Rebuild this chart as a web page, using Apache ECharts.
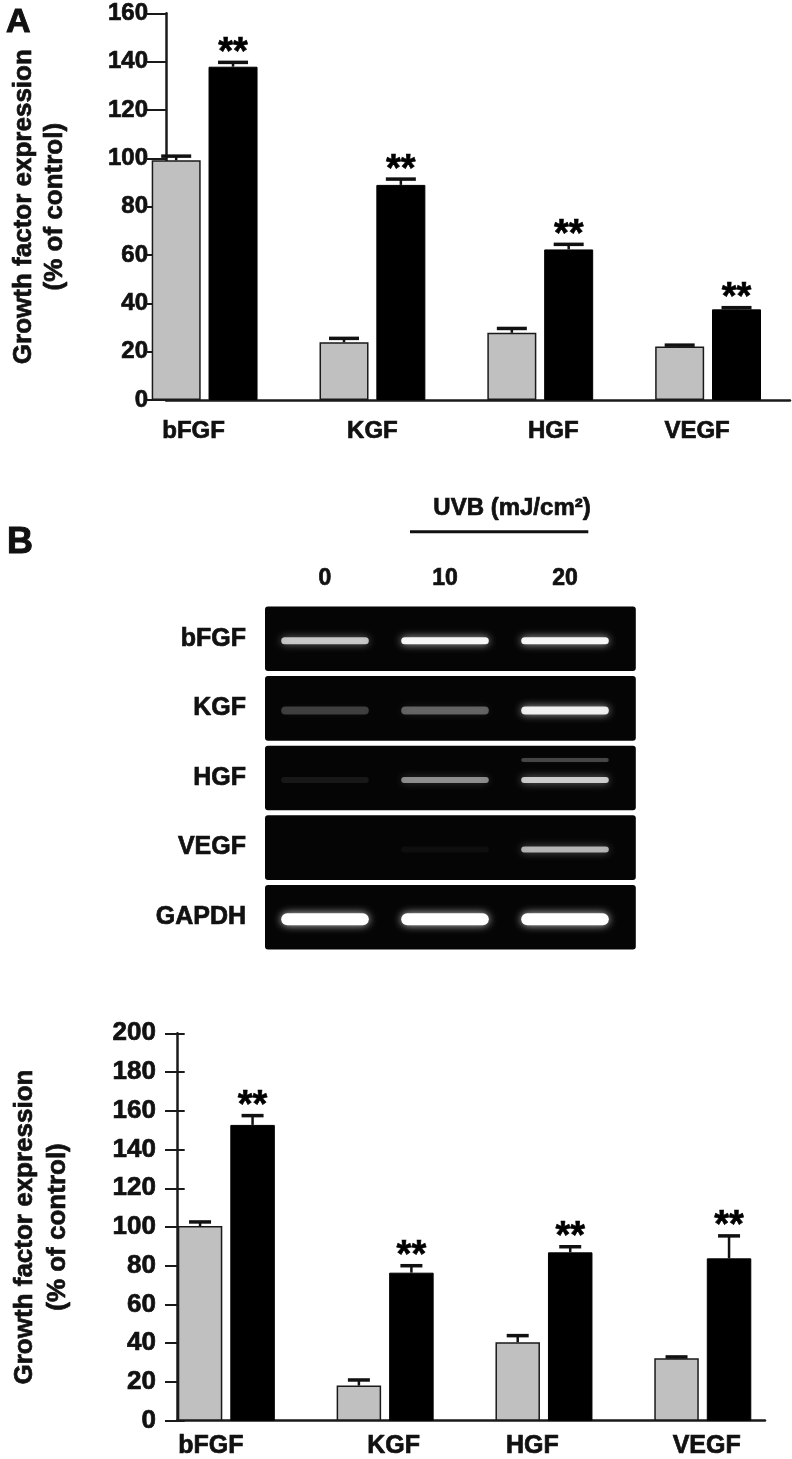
<!DOCTYPE html>
<html>
<head>
<meta charset="utf-8">
<script src="https://cdn.jsdelivr.net/npm/echarts@6/dist/echarts.min.js"></script>
<style>
html,body{margin:0;padding:0;background:#fff;}
#chart{width:792px;height:1459px;}
</style>
</head>
<body>
<div id="chart"></div>
<script>
// ---------------- DATA ----------------
const categories = ['bFGF', 'KGF', 'HGF', 'VEGF'];

// Panel A
const aControl    = [99.2, 23.9, 27.8, 22.1];
const aControlErr = [1.7, 1.6, 1.8, 0.6];
const aUVB        = [137.9, 89.0, 62.3, 37.5];
const aUVBErr     = [1.8, 2.4, 2.1, 0.7];
const aSig        = ['**', '**', '**', '**'];
const aYMax = 160, aYStep = 20;

// Panel B (densitometry)
const bControl    = [100.5, 18.1, 40.5, 32.2];
const bControlErr = [2.1, 2.9, 3.4, 0.7];
const bUVB        = [152.7, 76.4, 86.9, 83.8];
const bUVBErr     = [4.8, 3.6, 2.9, 11.6];
const bSig        = ['**', '**', '**', '**'];
const bYMax = 200, bYStep = 20;

// Panel B gel (band intensity 0..1)
const gelLanes = ['0', '10', '20'];
const gelGenes = ['bFGF', 'KGF', 'HGF', 'VEGF', 'GAPDH'];
const gelBand = [
  [0.72, 0.95, 0.95],
  [0.22, 0.35, 0.90],
  [0.08, 0.50, 0.75],
  [0.00, 0.04, 0.65],
  [1.00, 1.00, 1.00]
];
const gelUpperBand = [
  [0, 0, 0],
  [0, 0, 0],
  [0, 0, 0.25],
  [0, 0, 0],
  [0, 0, 0]
];
const uvbTitle = 'UVB (mJ/cm²)';
const yTitle = 'Growth factor expression\n(% of control)';

// ---------------- STYLE ----------------
const FONT = "'Liberation Sans', Arial, Helvetica, sans-serif";
const GRAY = '#c0c0c0';
const INK = '#111';
const STROKE = 0.7;
const bandHeights = [7, 8, 6, 6, 12];

function txt(size, extra) {
  return Object.assign({ fontSize: size, fontWeight: 'bold', fontFamily: FONT, color: INK,
    textBorderColor: INK, textBorderWidth: STROKE }, extra || {});
}

function shiftedLabels(shifts, fontSize, margin) {
  const rich = {};
  shifts.forEach((d, i) => {
    rich['s' + i] = txt(fontSize, { padding: d >= 0 ? [0, 0, 0, 2 * d] : [0, -2 * d, 0, 0] });
  });
  return {
    show: true, margin: margin, interval: 0,
    formatter: (v, i) => '{s' + i + '|' + v + '}',
    rich: rich
  };
}

function errRender(side, barW, gapRatio, capW, sigArr, sigFont, sigGap) {
  return function (params, api) {
    const i = api.value(0), v = api.value(1), e = api.value(2);
    const base = api.coord([i, v]);
    const top = api.coord([i, v + e]);
    const off = side * (barW + barW * gapRatio) / 2;
    const x = base[0] + off;
    const children = [
      { type: 'line', shape: { x1: x, y1: base[1], x2: x, y2: top[1] },
        style: { stroke: INK, lineWidth: 2.5 } },
      { type: 'line', shape: { x1: x - capW / 2, y1: top[1], x2: x + capW / 2, y2: top[1] },
        style: { stroke: INK, lineWidth: 3.5 } }
    ];
    if (sigArr && sigArr[params.dataIndex]) {
      children.push({
        type: 'text',
        style: {
          text: sigArr[params.dataIndex], x: x, y: top[1] - sigGap,
          align: 'center', verticalAlign: 'middle',
          textAlign: 'center', textVerticalAlign: 'middle',
          font: 'bold ' + sigFont + 'px ' + FONT, fill: '#000',
          stroke: '#000', lineWidth: 0.6
        }
      });
    }
    return { type: 'group', children: children };
  };
}

function errData(vals, errs) {
  return vals.map((v, i) => [i, v, errs[i]]);
}

// Panel geometry
const A = { top: 13.3, height: 386.7, axLeft: 147, axWidth: 643, barLeft: 120.7, barWidth: 693.8, bw: 49, gap: 0.16, tick: 11 };
const B = { top: 1033.3, height: 387.4, axLeft: 172.7, axWidth: 592.3, barLeft: 146.9, barWidth: 635.3, bw: 44.5, gap: 0.18, tick: 12 };

const axisLineStyle = { color: '#1a1a1a', width: 2.5 };
const tickStyle = { color: '#1a1a1a', width: 2 };

const option = {
  backgroundColor: '#fff',
  animation: false,
  title: [
    { text: 'A', left: 1, top: 1, textStyle: txt(34, { textBorderWidth: 1 }) },
    { text: 'B', left: 2, top: 520, textStyle: txt(36, { textBorderWidth: 1 }) }
  ],
  graphic: [
    { type: 'text', left: 433, top: 496,
      style: { text: uvbTitle, font: 'bold 24px ' + FONT, fill: INK, stroke: INK, lineWidth: STROKE } },
    { type: 'line', shape: { x1: 410, y1: 531.7, x2: 588.3, y2: 531.7 },
      style: { stroke: INK, lineWidth: 3 } }
  ],
  grid: [
    { left: A.axLeft, top: A.top, width: A.axWidth, height: A.height },
    { left: A.barLeft, top: A.top, width: A.barWidth, height: A.height },
    { left: 265, top: 604, width: 360, height: 348 },
    { left: B.axLeft, top: B.top, width: B.axWidth, height: B.height },
    { left: B.barLeft, top: B.top, width: B.barWidth, height: B.height },
    // helper grids carrying the right half of the crossing y ticks
    { left: A.axLeft + A.tick, top: A.top, width: 40, height: A.height },
    { left: B.axLeft + B.tick, top: B.top, width: 40, height: B.height }
  ],
  xAxis: [
    { gridIndex: 0, type: 'category', data: categories, axisLine: { lineStyle: axisLineStyle },
      axisTick: { show: false }, axisLabel: { show: false } },
    { gridIndex: 1, type: 'category', data: categories, axisLine: { show: false },
      axisTick: { show: false }, axisLabel: shiftedLabels([-11, 0, 13, -11], 24, 19) },
    { gridIndex: 2, type: 'category', data: gelLanes, position: 'top', axisLine: { show: false },
      axisTick: { show: false },
      axisLabel: Object.assign(txt(23), { margin: 14 }) },
    { gridIndex: 3, type: 'category', data: categories, axisLine: { lineStyle: axisLineStyle },
      axisTick: { show: false }, axisLabel: { show: false } },
    { gridIndex: 4, type: 'category', data: categories, axisLine: { show: false },
      axisTick: { show: false }, axisLabel: shiftedLabels([-15.5, 8.4, -11.7, 3.9], 25, 13) },
    { gridIndex: 5, type: 'category', data: categories, show: false },
    { gridIndex: 6, type: 'category', data: categories, show: false }
  ],
  yAxis: [
    { gridIndex: 0, type: 'value', position: 'left', min: 0, max: aYMax, interval: aYStep,
      axisLine: { show: true, lineStyle: axisLineStyle },
      axisTick: { show: true, length: 10, lineStyle: tickStyle },
      axisLabel: Object.assign(txt(24), { margin: 18 }),
      splitLine: { show: false },
      name: yTitle, nameLocation: 'middle', nameRotate: 90, nameGap: 96,
      nameTextStyle: txt(26, { lineHeight: 31 }) },
    { gridIndex: 1, type: 'value', min: 0, max: aYMax, show: false, splitLine: { show: false } },
    { gridIndex: 2, type: 'category', data: gelGenes, inverse: true, axisLine: { show: false },
      axisTick: { show: false },
      axisLabel: Object.assign(txt(25), { margin: 19 }) },
    { gridIndex: 3, type: 'value', position: 'left', min: 0, max: bYMax, interval: bYStep,
      axisLine: { show: true, lineStyle: axisLineStyle },
      axisTick: { show: true, length: 12, lineStyle: tickStyle },
      axisLabel: Object.assign(txt(26), { margin: 21 }),
      splitLine: { show: false },
      name: yTitle, nameLocation: 'middle', nameRotate: 90, nameGap: 103,
      nameTextStyle: txt(26, { lineHeight: 33 }) },
    { gridIndex: 4, type: 'value', min: 0, max: bYMax, show: false, splitLine: { show: false } },
    { gridIndex: 5, type: 'value', position: 'left', min: 0, max: aYMax, interval: aYStep,
      axisLine: { show: true, lineStyle: { color: 'rgba(0,0,0,0)', width: 0 } },
      axisLabel: { show: false }, splitLine: { show: false },
      axisTick: { show: true, length: A.tick, lineStyle: tickStyle } },
    { gridIndex: 6, type: 'value', position: 'left', min: 0, max: bYMax, interval: bYStep,
      axisLine: { show: true, lineStyle: { color: 'rgba(0,0,0,0)', width: 0 } },
      axisLabel: { show: false }, splitLine: { show: false },
      axisTick: { show: true, length: B.tick, lineStyle: tickStyle } }
  ],
  series: [
    // Panel A bars
    { type: 'bar', xAxisIndex: 1, yAxisIndex: 1, data: aControl, barWidth: A.bw, barGap: (A.gap * 100) + '%',
      itemStyle: { color: GRAY, borderColor: '#1a1a1a', borderWidth: 1.5 } },
    { type: 'bar', xAxisIndex: 1, yAxisIndex: 1, data: aUVB, barWidth: A.bw, barGap: (A.gap * 100) + '%',
      itemStyle: { color: '#000', borderColor: '#000', borderWidth: 1 } },
    { type: 'custom', xAxisIndex: 1, yAxisIndex: 1, data: errData(aControl, aControlErr),
      renderItem: errRender(-1, A.bw, A.gap, 30, null), z: 3 },
    { type: 'custom', xAxisIndex: 1, yAxisIndex: 1, data: errData(aUVB, aUVBErr),
      renderItem: errRender(1, A.bw, A.gap, 30, aSig, 38, 9), z: 3 },

    // Gel boxes
    { type: 'custom', xAxisIndex: 2, yAxisIndex: 2, z: 1,
      data: gelGenes.map((g, i) => [0, i]),
      renderItem: function (params, api) {
        const c = api.coord([0, api.value(1)]);
        const h = api.size([0, 1])[1];
        const cs = params.coordSys;
        return { type: 'rect', shape: { x: cs.x, y: c[1] - h / 2 + 2.5, width: cs.width * 1.03, height: h - 5, r: 3 },
                 style: { fill: '#050505' } };
      } },
    // Gel bands
    { type: 'custom', xAxisIndex: 2, yAxisIndex: 2, z: 2,
      data: (function () {
        const d = [];
        gelGenes.forEach((g, gi) => gelLanes.forEach((l, li) => d.push([li, gi, gelBand[gi][li], gelUpperBand[gi][li]])));
        return d;
      })(),
      renderItem: function (params, api) {
        const li = api.value(0), gi = api.value(1), a = api.value(2), up = api.value(3);
        const c = api.coord([li, gi]);
        const w = api.size([1, 0])[0] * 0.73;
        const bh = bandHeights[gi];
        const children = [];
        if (a > 0) {
          children.push({ type: 'rect', shape: { x: c[0] - w / 2, y: c[1] + 2 - bh / 2, width: w, height: bh, r: bh / 2 },
            style: { fill: 'rgba(255,255,255,' + a + ')', shadowBlur: 8, shadowColor: 'rgba(255,255,255,' + (a * 0.8) + ')' } });
        }
        if (up > 0) {
          children.push({ type: 'rect', shape: { x: c[0] - w / 2, y: c[1] - 18 - 2, width: w, height: 4, r: 2 },
            style: { fill: 'rgba(255,255,255,' + up + ')', shadowBlur: 6, shadowColor: 'rgba(255,255,255,' + (up * 0.8) + ')' } });
        }
        return { type: 'group', children: children };
      } },

    // Panel B bars
    { type: 'bar', xAxisIndex: 4, yAxisIndex: 4, data: bControl, barWidth: B.bw, barGap: (B.gap * 100) + '%',
      itemStyle: { color: GRAY, borderColor: '#1a1a1a', borderWidth: 1.5 } },
    { type: 'bar', xAxisIndex: 4, yAxisIndex: 4, data: bUVB, barWidth: B.bw, barGap: (B.gap * 100) + '%',
      itemStyle: { color: '#000', borderColor: '#000', borderWidth: 1 } },
    { type: 'custom', xAxisIndex: 4, yAxisIndex: 4, data: errData(bControl, bControlErr),
      renderItem: errRender(-1, B.bw, B.gap, 22, null), z: 3 },
    { type: 'custom', xAxisIndex: 4, yAxisIndex: 4, data: errData(bUVB, bUVBErr),
      renderItem: errRender(1, B.bw, B.gap, 22, bSig, 38, 9), z: 3 }
  ]
};

const chart = echarts.init(document.getElementById('chart'), null, { renderer: 'canvas', width: 792, height: 1459 });
chart.setOption(option);
</script>
</body>
</html>
